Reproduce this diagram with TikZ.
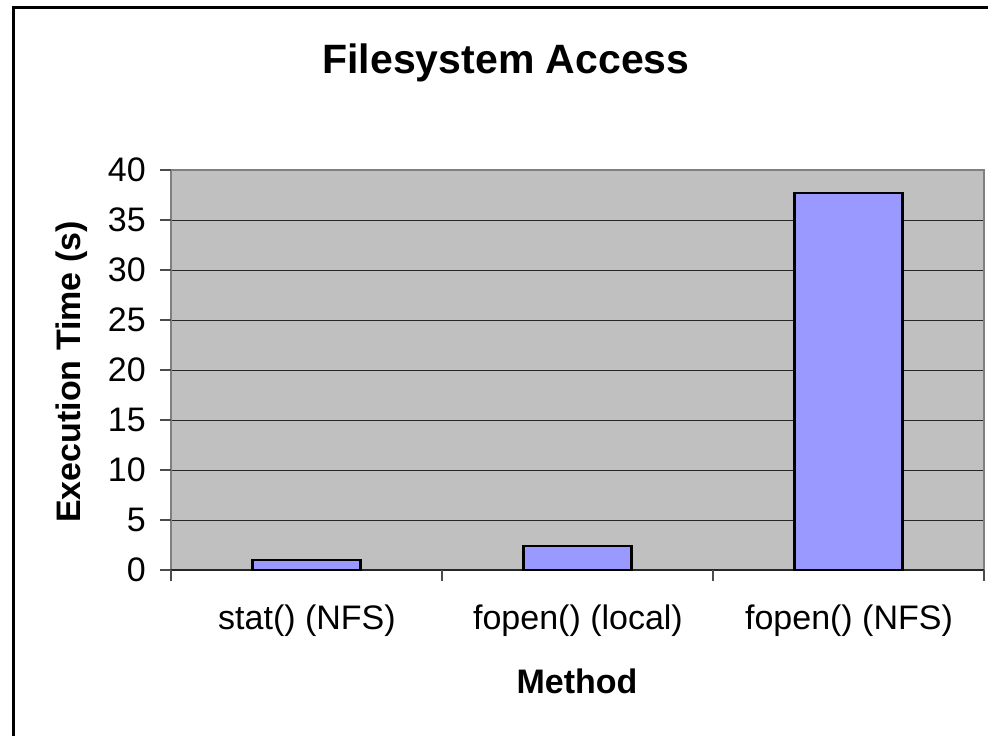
\documentclass[tikz,border=0pt]{standalone}
\usepackage{fontspec}
\setmainfont{Liberation Sans}
\begin{document}
\begin{tikzpicture}[x=1pt,y=-1pt,
  plotbg/.style={fill=plotgray,draw=none},
  barbox/.style={fill=barblue,draw=black,line width=2.6pt},
  gridln/.style={draw=black!85,line width=1pt},
  tickln/.style={draw=black!70,line width=1.3pt},
  ticklbl/.style={anchor=east,inner sep=0pt,font=\fontsize{34}{40}\selectfont},
  catlbl/.style={anchor=center,inner sep=0pt,font=\fontsize{34}{40}\selectfont},
  axtitle/.style={anchor=center,inner sep=0pt,font=\fontsize{34}{40}\selectfont\bfseries},
  charttitle/.style={anchor=center,inner sep=0pt,font=\fontsize{41}{48}\selectfont\bfseries}]
\definecolor{plotgray}{HTML}{C0C0C0}
\definecolor{barblue}{HTML}{9999FF}
\definecolor{edgegray}{HTML}{808080}
\useasboundingbox (0,0) rectangle (988,736);
\clip (0,0) rectangle (988,736);
% chart frame
\draw[black,line width=3pt] (13.5,760) -- (13.5,7.5) -- (1010,7.5);
% plot area
\coordinate (pa) at (171,170);
\coordinate (pb) at (984,570);
\fill[plotgray] (pa) rectangle (pb);
% gridlines every 5 s
\foreach \v in {5,10,...,35}
  \draw[gridln] (171,570-10*\v) -- (984,570-10*\v);
% plot border (top, right)
\draw[edgegray,line width=2pt] (171,170) -- (984,170) -- (984,570);
% value axis with ticks and labels
\draw[edgegray,line width=1.5pt] (171,170) -- (171,581);
\foreach \v in {0,5,...,40} {
  \draw[tickln] (160,570-10*\v) -- (171,570-10*\v);
  \node[ticklbl] (t\v) at (146,570-10*\v) {\v};
}
% category axis
\draw[black!85,line width=1.3pt] (171,570) -- (984,570);
\foreach \x in {171,442,713,984}
  \draw[tickln] (\x,570) -- (\x,581);
% bars: stat() (NFS) = 1.0, fopen() (local) = 2.4, fopen() (NFS) = 37.7
\draw[barbox] (252.5,570) rectangle (360.5,560) node[pos=0.5] (b1) {};
\draw[barbox] (523.5,570) rectangle (631.5,546) node[pos=0.5] (b2) {};
\draw[barbox] (794.5,570) rectangle (902.5,193) node[pos=0.5] (b3) {};
% category labels
\node[catlbl] (c1) at (307,621) {stat() (NFS)};
\node[catlbl] (c2) at (578,621) {fopen() (local)};
\node[catlbl] (c3) at (849,621) {fopen() (NFS)};
% titles
\node[charttitle] (title) at (506,63) {Filesystem Access};
\node[axtitle] (xtitle) at (577,681) {Method};
\node[axtitle,rotate=90] (ytitle) at (72,372) {Execution Time (s)};
\end{tikzpicture}
\end{document}
